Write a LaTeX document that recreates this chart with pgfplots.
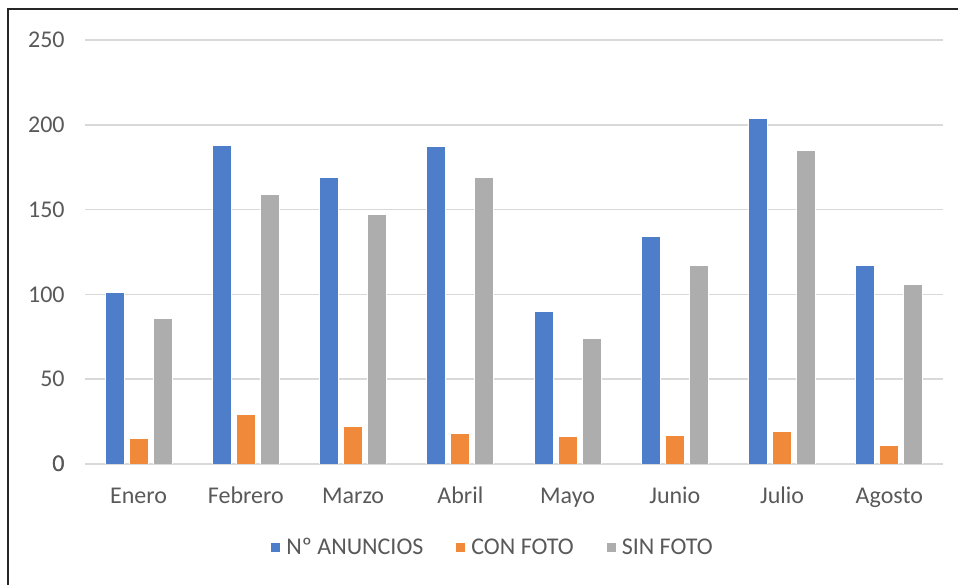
\documentclass[border=0pt]{standalone}
\usepackage{fontspec}
\setmainfont{Carlito}
\usepackage{pgfplots}
\pgfplotsset{compat=1.18}
\definecolor{anun}{HTML}{4E7DC9}
\definecolor{con}{HTML}{F08A3A}
\definecolor{sin}{HTML}{ADADAD}
\definecolor{txt}{HTML}{595959}
\definecolor{grd}{HTML}{D9D9D9}

\begin{document}
\begin{tikzpicture}
\path[use as bounding box] (0,0) rectangle (479bp,292.5bp);
\draw[black!85,line width=1bp] (4bp,0) -- (4bp,288bp) -- (479bp,288bp);
\begin{axis}[
  at={(42.5bp,60.5bp)}, anchor=south west,
  scale only axis,
  width=429bp, height=212bp,
  ybar=2.5bp,
  bar width=9.5bp,
  ymin=0, ymax=250,
  ytick={0,50,...,250},
  xmin=-0.5, xmax=7.5,
  xtick={0,...,7},
  xticklabels={Enero,Febrero,Marzo,Abril,Mayo,Junio,Julio,Agosto},
  axis line style={draw=none},
  major tick length=0pt,
  ymajorgrids,
  grid style={grd,line width=0.75bp},
  extra y ticks={0},
  extra y tick style={grid style={grd,line width=1bp}},
  tick label style={font=\fontsize{12bp}{14bp}\selectfont, text=txt},
  /pgf/number format/assume math mode=true,
  yticklabel style={anchor=east, inner sep=0pt, xshift=-10bp},
  xticklabel style={anchor=base, inner sep=0pt, yshift=-20bp},
  legend columns=3,
  legend style={at={(0.4767,-0.198)}, anchor=center, draw=none,
    inner sep=0pt,
    font=\fontsize{12bp}{14bp}\selectfont, text=txt,
    nodes={inner sep=2.5bp},
    /tikz/every even column/.append style={column sep=13.5bp}},
  legend cell align=left,
  legend image code/.code={\fill[#1] (0bp,-2.5bp) rectangle (5bp,2.5bp);},
]
\addplot[fill=anun, draw=white, line width=0.5bp] coordinates
  {(0,101) (1,188) (2,169) (3,187) (4,90) (5,134) (6,204) (7,117)};
\addlegendentry{Nº ANUNCIOS}
\addplot[fill=con, draw=white, line width=0.5bp] coordinates
  {(0,15) (1,29) (2,22) (3,18) (4,16) (5,17) (6,19) (7,11)};
\addlegendentry{CON FOTO}
\addplot[fill=sin, draw=white, line width=0.5bp] coordinates
  {(0,86) (1,159) (2,147) (3,169) (4,74) (5,117) (6,185) (7,106)};
\addlegendentry{SIN FOTO}
\end{axis}
\end{tikzpicture}
\end{document}
